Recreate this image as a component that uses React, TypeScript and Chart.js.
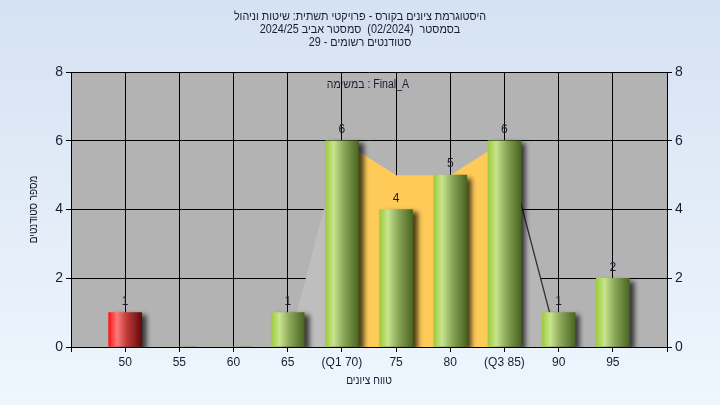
import React, { useEffect, useRef } from "react";
import { Chart, registerables } from "chart.js";

Chart.register(...registerables);

// ---------- data ----------
const GRADES = [50, 55, 60, 65, 70, 75, 80, 85, 90, 95];
const COUNTS = [1, 0, 0, 1, 6, 4, 5, 6, 1, 2];
const TICK_LABELS: Record<number, string> = {
  50: "50", 55: "55", 60: "60", 65: "65", 70: "(Q1 70)",
  75: "75", 80: "80", 85: "(Q3 85)", 90: "90", 95: "95",
};
const LEFT_TAIL_X = [65, 70];
const LEFT_TAIL_Y = [0, 6];
const IQR_X = [70, 75, 80, 85];
const IQR_Y = [6, 5, 5, 6];
const RIGHT_TAIL_X = [85, 90];
const RIGHT_TAIL_Y = [6, 0];
const Y_TICKS = [0, 2, 4, 6, 8];

const TITLE_LINES = [
  "היסטוגרמת ציונים בקורס - פרויקטי תשתית: שיטות וניהול",
  "בסמסטר  (02/2024)  סמסטר אביב 2024/25",
  "סטודנטים רשומים - 29",
];
const LEGEND_TEXT = "Final_A : במשימה";
const X_TITLE = "טווח ציונים";
const Y_TITLE = "מספר סטודנטים";

const FONT = '"Liberation Sans", Arial, sans-serif';
const TEXT_COLOR = "#1b1b33";

function narrowText(ctx: any, text: string, x: number, y: number, sx: number) {
  ctx.save();
  ctx.translate(x, y);
  ctx.scale(sx, 1);
  ctx.fillText(text, 0, 0);
  ctx.restore();
}

const bgPlugin = {
  id: "bgPlugin",
  beforeDraw(chart: any) {
    const { ctx, chartArea } = chart;
    const { left, top, right, bottom } = chartArea;
    ctx.save();
    const g = ctx.createLinearGradient(0, 0, 0, chart.height);
    g.addColorStop(0, "#d5e2f3");
    g.addColorStop(1, "#eff6fd");
    ctx.fillStyle = g;
    ctx.fillRect(0, 0, chart.width, chart.height);
    ctx.fillStyle = "#b3b3b3";
    ctx.fillRect(left, top, right - left, bottom - top);

    ctx.fillStyle = TEXT_COLOR;
    ctx.textAlign = "center";
    ctx.textBaseline = "middle";
    ctx.direction = "rtl";
    ctx.font = `12px ${FONT}`;
    const cx = (left + right) / 2;
    TITLE_LINES.forEach((t, i) => narrowText(ctx, t, 360, 17 + i * 13, 0.9));
    narrowText(ctx, LEGEND_TEXT, cx - 1, top + 13, 0.88);
    narrowText(ctx, X_TITLE, cx, 381, 0.85);
    ctx.translate(34, (top + bottom) / 2);
    ctx.rotate(-Math.PI / 2);
    narrowText(ctx, Y_TITLE, 0, 0, 0.82);
    ctx.restore();
  },
};

const barShadowPlugin = {
  id: "barShadow",
  beforeDatasetDraw(chart: any, args: any) {
    if (chart.data.datasets[args.index].type !== "bar") return;
    const ctx = chart.ctx;
    ctx.save();
    ctx.shadowColor = "rgba(0,0,0,0.7)";
    ctx.shadowOffsetX = 5;
    ctx.shadowOffsetY = 3;
    ctx.shadowBlur = 5;
  },
  afterDatasetDraw(chart: any, args: any) {
    if (chart.data.datasets[args.index].type !== "bar") return;
    chart.ctx.restore();
  },
};

const valueLabelPlugin = {
  id: "valueLabels",
  afterDatasetsDraw(chart: any) {
    const ctx = chart.ctx;
    chart.data.datasets.forEach((ds: any, di: number) => {
      if (ds.type !== "bar") return;
      const meta = chart.getDatasetMeta(di);
      meta.data.forEach((el: any, i: number) => {
        const v = COUNTS[i];
        if (!v) return;
        ctx.save();
        ctx.fillStyle = TEXT_COLOR;
        ctx.font = `12px ${FONT}`;
        ctx.textAlign = "center";
        ctx.textBaseline = "bottom";
        ctx.fillText(String(v), el.x, el.y - 5);
        ctx.restore();
      });
    });
  },
};

function barGradient(c: any) {
  const fallback = "#9ccc3c";
  if (!c || c.type !== "data" || !c.raw) return fallback;
  const chart = c.chart;
  const xs = chart.scales && chart.scales.x;
  if (!xs) return fallback;
  const grade = c.raw.x;
  const cx = xs.getPixelForValue(grade);
  if (!isFinite(cx)) return fallback;
  const half = 16.5;
  const g = chart.ctx.createLinearGradient(cx - half, 0, cx + half, 0);
  if (grade < 55) {
    g.addColorStop(0, "#ff1010");
    g.addColorStop(0.25, "#ff7a7a");
    g.addColorStop(0.55, "#c03a3a");
    g.addColorStop(1, "#650808");
  } else {
    g.addColorStop(0, "#9ccc3c");
    g.addColorStop(0.25, "#c9e48e");
    g.addColorStop(0.55, "#8ca85a");
    g.addColorStop(1, "#4a6520");
  }
  return g;
}

export default function App() {
  const ref = useRef<HTMLCanvasElement>(null);
  useEffect(() => {
    const chart = new Chart(ref.current as HTMLCanvasElement, {
      type: "bar",
      data: {
        datasets: [
          {
            type: "bar",
            data: GRADES.map((g, i) => ({ x: g, y: COUNTS[i] })),
            backgroundColor: barGradient as any,
            borderWidth: 0,
            barThickness: 33,
            order: 0,
            xAxisID: "x",
            yAxisID: "y",
          } as any,
          {
            type: "line",
            data: LEFT_TAIL_X.map((x, i) => ({ x, y: LEFT_TAIL_Y[i] })),
            fill: "origin",
            backgroundColor: "#bebebe",
            borderWidth: 0,
            pointRadius: 0,
            order: 2,
            xAxisID: "x",
            yAxisID: "y",
          },
          {
            type: "line",
            data: IQR_X.map((x, i) => ({ x, y: IQR_Y[i] })),
            fill: "origin",
            backgroundColor: "#fecb58",
            borderWidth: 0,
            pointRadius: 0,
            order: 2,
            xAxisID: "x",
            yAxisID: "y",
          },
          {
            type: "line",
            data: RIGHT_TAIL_X.map((x, i) => ({ x, y: RIGHT_TAIL_Y[i] })),
            fill: "origin",
            backgroundColor: "#b6b6b6",
            borderColor: "#333333",
            borderWidth: 1.3,
            pointRadius: 0,
            order: 2,
            xAxisID: "x",
            yAxisID: "y",
          },
        ],
      },
      options: {
        responsive: false,
        animation: false,
        layout: { padding: { top: 72, left: 0, right: 0, bottom: 0 } },
        plugins: { legend: { display: false }, tooltip: { enabled: false }, title: { display: false } },
        scales: {
          x: {
            type: "linear",
            min: 45,
            max: 100,
            offset: false,
            afterFit: (s: any) => { s.height = 58; },
            ticks: {
              stepSize: 5,
              autoSkip: false,
              maxRotation: 0,
              padding: 3,
              color: TEXT_COLOR,
              font: { family: FONT, size: 12 },
              callback: (v: any) => TICK_LABELS[v as number] ?? "",
            },
            grid: { color: "#000", lineWidth: 1, tickLength: 5, offset: false, drawOnChartArea: true },
            border: { color: "#000" },
          },
          y: {
            position: "left",
            min: 0,
            max: 8,
            afterFit: (s: any) => { s.width = 71; },
            afterBuildTicks: (s: any) => { s.ticks = Y_TICKS.map((v) => ({ value: v })); },
            ticks: { color: TEXT_COLOR, font: { family: FONT, size: 14 }, padding: 3 },
            grid: { color: "#000", lineWidth: 1, tickLength: 5 },
            border: { color: "#000" },
          },
          y2: {
            position: "right",
            min: 0,
            max: 8,
            afterFit: (s: any) => { s.width = 53; },
            afterBuildTicks: (s: any) => { s.ticks = Y_TICKS.map((v) => ({ value: v })); },
            ticks: { color: TEXT_COLOR, font: { family: FONT, size: 14 }, padding: 3 },
            grid: { color: "#000", lineWidth: 1, tickLength: 5, drawOnChartArea: false },
            border: { color: "#000" },
          },
        },
      } as any,
      plugins: [bgPlugin, barShadowPlugin, valueLabelPlugin],
    });
    return () => chart.destroy();
  }, []);
  return (
    <div style={{ position: "fixed", left: 0, top: 0, width: 720, height: 405 }}>
      <canvas ref={ref} width={720} height={405} style={{ display: "block", width: 720, height: 405 }} />
    </div>
  );
}
